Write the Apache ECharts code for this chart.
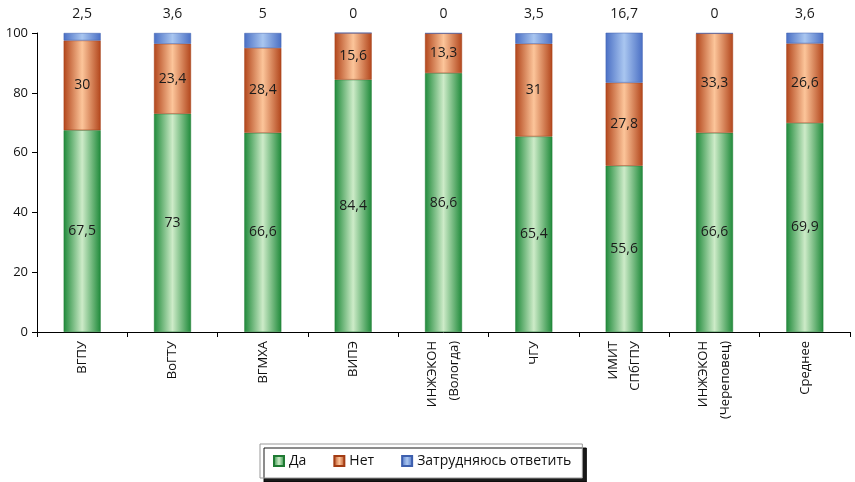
<!DOCTYPE html>
<html><head><meta charset="utf-8">
<script src="https://cdn.jsdelivr.net/npm/echarts@6/dist/echarts.min.js"></script>
<style>html,body{margin:0;padding:0;background:#fff}#c{width:855px;height:482px}</style>
</head><body><div id="c"></div>
<script>
const categories = ['ВГПУ','ВоГТУ','ВГМХА','ВИПЭ','ИНЖЭКОН\n(Вологда)','ЧГУ','ИМИТ\nСПбГПУ','ИНЖЭКОН\n(Череповец)','Среднее'];
const da = [67.5,73,66.6,84.4,86.6,65.4,55.6,66.6,69.9];
const net = [30,23.4,28.4,15.6,13.3,31,27.8,33.3,26.6];
const zatr = [2.5,3.6,5,0,0,3.5,16.7,0,3.6];
const yTicks = [0,20,40,60,80,100];

const FONT = 'Open Sans';
function grad(edge, mid){
  return new echarts.graphic.LinearGradient(0,0,1,0,[
    {offset:0,color:edge},{offset:0.5,color:mid},{offset:1,color:edge}]);
}
const fmt = p => String(p.value).replace('.', ',');
const chart = echarts.init(document.getElementById('c'));
chart.setOption({
  animation:false,
  textStyle:{fontFamily:FONT},
  grid:{left:37,right:5,top:33,bottom:150},
  legend:{
    left:260, top:444,
    padding:[10,11,10,13],
    itemWidth:10,itemHeight:10,itemGap:27,
    icon:'rect',
    backgroundColor:'#fff',
    borderColor:'#999',borderWidth:1,borderRadius:0,
    shadowColor:'rgba(0,0,0,0.9)',shadowOffsetX:4,shadowOffsetY:4,shadowBlur:0,
    textStyle:{fontFamily:FONT,fontSize:14,color:'#111'},
    data:['Да','Нет','Затрудняюсь ответить']
  },
  xAxis:{
    type:'category',data:categories,
    axisLine:{lineStyle:{color:'#000',width:1}},
    axisTick:{show:true,alignWithLabel:false,length:5,lineStyle:{color:'#000'}},
    axisLabel:{rotate:90,interval:0,fontFamily:FONT,fontSize:13,color:'#111',margin:9,lineHeight:22}
  },
  yAxis:{
    type:'value',min:0,max:100,interval:20,
    axisLine:{show:true,lineStyle:{color:'#000',width:1}},
    axisTick:{show:true,length:5,lineStyle:{color:'#000'}},
    splitLine:{show:false},
    axisLabel:{fontFamily:FONT,fontSize:13,color:'#111',margin:9,
      formatter:v=>yTicks.includes(v)?String(v):''}
  },
  series:[
    {name:'Да',type:'bar',stack:'s',data:da,barWidth:37,
      itemStyle:{color:grad('#1f8a3a','#cdebc8'),borderColor:'#1f7a33',borderWidth:0.5},
      label:{show:true,position:'inside',formatter:fmt,fontFamily:FONT,fontSize:14,color:'#1a1a1a'}},
    {name:'Нет',type:'bar',stack:'s',data:net,
      itemStyle:{color:grad('#b2461c','#fcc59a'),borderColor:'#a33c14',borderWidth:0.5},
      label:{show:true,position:'inside',formatter:fmt,fontFamily:FONT,fontSize:14,color:'#1a1a1a'}},
    {name:'Затрудняюсь ответить',type:'bar',stack:'s',data:zatr,
      itemStyle:{color:grad('#4a6fc4','#a9c6f0'),borderColor:'#3d5fae',borderWidth:0.5},
      label:{show:true,position:'top',distance:12,formatter:fmt,fontFamily:FONT,fontSize:14,color:'#1a1a1a'}}
  ]
});
</script></body></html>
